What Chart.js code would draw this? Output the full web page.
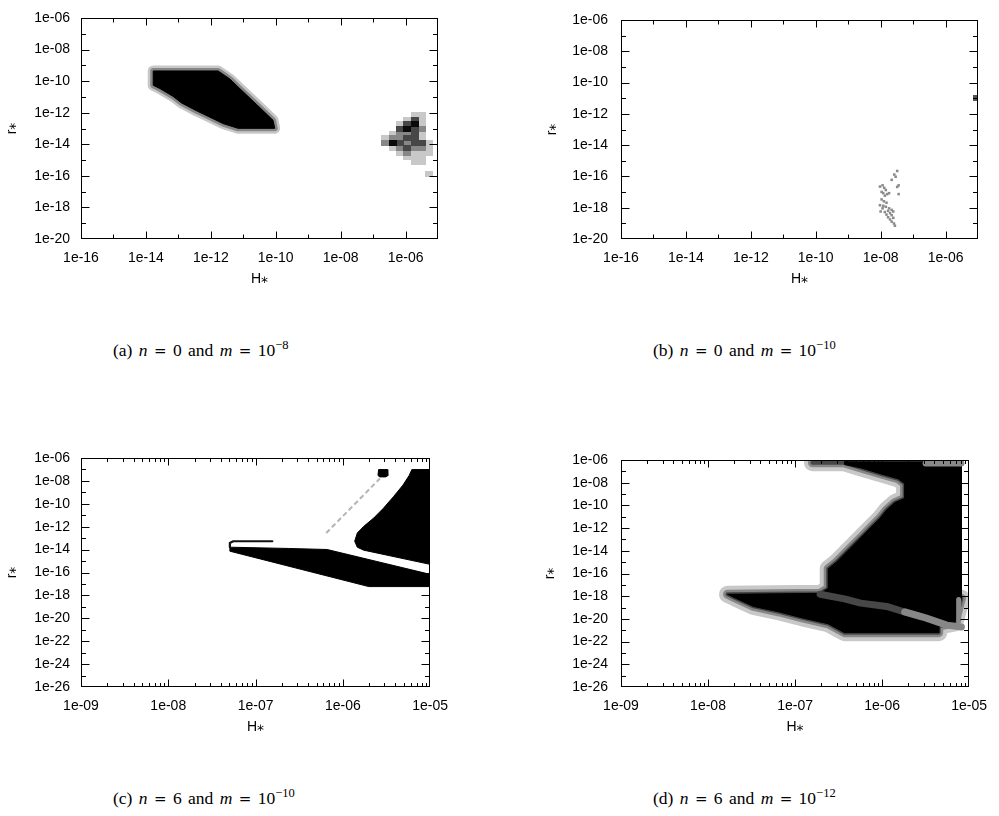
<!DOCTYPE html>
<html>
<head>
<meta charset="utf-8">
<title>Allowed regions in (H*, r*)</title>
<script src="https://cdn.jsdelivr.net/npm/chart.js@4.4.1/dist/chart.umd.min.js"></script>
<style>
  html, body { margin:0; padding:0; background:#fff; }
  body { position:relative; width:999px; height:816px; overflow:hidden; }
  canvas { position:absolute; }
  .cap { position:absolute; font-family:"Liberation Serif","Times New Roman",serif; font-size:17.5px; line-height:20px; color:#000; white-space:nowrap; word-spacing:2px; }
  .cap i { font-style:italic; }
  .cap .eq { font-family:"DejaVu Serif",serif; font-size:15px; }
  .cap sup { font-size:12.5px; line-height:0; vertical-align:0.55em; }
</style>
</head>
<body>
<canvas id="pa" width="460" height="300" style="left:0px;top:0px"></canvas>
<canvas id="pb" width="499" height="300" style="left:500px;top:0px"></canvas>
<canvas id="pc" width="460" height="300" style="left:0px;top:440px"></canvas>
<canvas id="pd" width="499" height="300" style="left:500px;top:440px"></canvas>
<div class="cap" style="left:113px;top:340px">(a) <i>n</i> <span class="eq">=</span> 0 and <i>m</i> <span class="eq">=</span> 10<sup>−8</sup></div>
<div class="cap" style="left:653px;top:340px">(b) <i>n</i> <span class="eq">=</span> 0 and <i>m</i> <span class="eq">=</span> 10<sup>−10</sup></div>
<div class="cap" style="left:113px;top:788px">(c) <i>n</i> <span class="eq">=</span> 6 and <i>m</i> <span class="eq">=</span> 10<sup>−10</sup></div>
<div class="cap" style="left:653px;top:788px">(d) <i>n</i> <span class="eq">=</span> 6 and <i>m</i> <span class="eq">=</span> 10<sup>−12</sup></div>
<script>
// ================= axis ticks and labels =================
const xTitle = 'H⁎';
const yTitle = 'r⁎';
const abXTicks = [1e-16, 1e-14, 1e-12, 1e-10, 1e-8, 1e-6];
const abXTickLabels = ['1e-16', '1e-14', '1e-12', '1e-10', '1e-08', '1e-06'];
const abXMinor = [1e-15, 1e-13, 1e-11, 1e-9, 1e-7];
const abYTicks = [1e-20, 1e-18, 1e-16, 1e-14, 1e-12, 1e-10, 1e-8, 1e-6];
const abYTickLabels = ['1e-20', '1e-18', '1e-16', '1e-14', '1e-12', '1e-10', '1e-08', '1e-06'];
const abYMinor = [1e-19, 1e-17, 1e-15, 1e-13, 1e-11, 1e-9, 1e-7];
const cdXTicks = [1e-9, 1e-8, 1e-7, 1e-6, 1e-5];
const cdXTickLabels = ['1e-09', '1e-08', '1e-07', '1e-06', '1e-05'];
const cdYTicks = [1e-26, 1e-24, 1e-22, 1e-20, 1e-18, 1e-16, 1e-14, 1e-12, 1e-10, 1e-8, 1e-6];
const cdYTickLabels = ['1e-26', '1e-24', '1e-22', '1e-20', '1e-18', '1e-16', '1e-14', '1e-12', '1e-10', '1e-08', '1e-06'];
const cdYMinor = [1e-25, 1e-23, 1e-21, 1e-19, 1e-17, 1e-15, 1e-13, 1e-11, 1e-9, 1e-7];

// ================= data (log10 H*, log10 r*) =================
// (a) n = 0, m = 1e-8 : main allowed region (outline)
const aBlackLog = [[-13.775,-9.353],[-11.775,-9.353],[-11.415,-9.86],[-11.108,-10.47],[-10.594,-11.47],
  [-10.083,-12.48],[-10.031,-12.99],[-11.160,-12.99],[-11.622,-12.69],[-12.031,-12.28],[-12.44,-11.88],
  [-12.902,-11.38],[-13.16,-10.97],[-13.57,-10.47],[-13.775,-10.26]];
// (a) patchy cluster near H* ~ 1e-6 : grid columns / rows and shaded cells [col,row]
const aCellColsLog = [-6.637, -6.40, -6.175, -5.95, -5.723, -5.50, -5.27];
const aCellRowsLog = [-12.13, -12.43, -12.73, -13.03, -13.33, -13.63, -13.93, -14.23, -14.53, -14.83, -15.13, -15.90];
const aCellsLight = [[4,0],[5,0],[3,1],[5,1],[2,2],[5,2],[1,4],[5,4],[0,5],[5,5],[6,6],[1,7],[6,7],[2,8],[4,8],[5,8],[6,8],[3,9],[4,9],[5,9],[4,10],[5,10],[6,11]];
const aCellsMid = [[5,3],[2,4],[3,4],[1,5],[2,5],[0,6],[3,6],[2,7],[4,7],[5,7],[3,8]];
const aCellsDark = [[4,1],[3,2],[2,3],[4,3],[4,4],[3,5],[4,5],[2,6],[4,6],[5,6],[3,7]];
const aCellsBlack = [[4,2],[3,3],[1,6]];

// (b) n = 0, m = 1e-10 : scattered points
const bDotsLog = [[-7.489,-15.65],[-7.58,-15.88],[-7.538,-16.02],[-7.66,-16.22],[-7.446,-16.57],[-7.49,-16.67],
  [-7.446,-17.13],[-7.94,-16.57],[-8.02,-16.65],[-7.89,-16.73],[-7.84,-16.87],[-7.97,-16.99],[-7.92,-17.07],
  [-7.80,-17.13],[-7.74,-17.07],[-7.87,-17.23],[-7.97,-17.47],[-7.90,-17.59],[-7.82,-17.68],[-8.02,-17.84],
  [-7.92,-17.88],[-7.84,-17.94],[-7.74,-18.04],[-7.66,-18.14],[-7.77,-18.20],[-7.61,-18.24],[-7.87,-18.28],
  [-7.71,-18.35],[-7.82,-18.44],[-7.66,-18.48],[-7.77,-18.61],[-7.61,-18.65],[-7.71,-18.75],[-7.66,-18.89],
  [-7.59,-19.01],[-7.56,-19.15],[-7.94,-18.04],[-8.0,-18.24]];
const bEdgeLog = [[-5.09,-10.97]];

// (c) n = 6, m = 1e-10
const cUpperLog = [[-5.209,-7.01],[-5.0,-7.01],[-5.0,-15.29],[-5.76,-14.05],[-5.834,-13.79],[-5.864,-13.27],
  [-5.834,-12.55],[-5.76,-11.97],[-5.647,-11.25],[-5.535,-10.39],[-5.42,-9.38],[-5.31,-8.36],[-5.238,-7.50]];
const cBlobLog = [[-5.59,-7.01],[-5.49,-7.01],[-5.485,-7.55],[-5.51,-7.65],[-5.58,-7.65],[-5.597,-7.5]];
const cLowerLog = [[-7.294,-13.79],[-6.622,-13.90],[-6.18,-13.99],[-5.0,-16.16],[-5.0,-17.23],[-5.703,-17.23],[-7.294,-14.14]];
const cProngLog = [[-6.808,-13.27],[-7.256,-13.27],[-7.294,-13.42],[-7.294,-13.79]];
const cDashLog = [[-6.19,-12.55],[-5.575,-7.79]];

// (d) n = 6, m = 1e-12
const dBlackLog = [[-6.432,-6.15],[-5.088,-6.15],[-5.088,-18.18],[-5.163,-20.35],[-5.349,-20.63],[-5.349,-21.21],
  [-6.432,-21.21],[-6.619,-20.43],[-6.917,-19.91],[-7.179,-19.39],[-7.477,-18.90],[-7.683,-18.18],[-7.776,-17.83],
  [-6.712,-17.75],[-6.619,-17.31],[-6.619,-15.58],[-6.525,-15.0],[-6.432,-14.28],[-6.320,-13.42],[-6.227,-12.70],
  [-6.133,-11.97],[-6.021,-11.11],[-5.947,-10.39],[-5.853,-9.75],[-5.741,-9.38],[-5.741,-8.08],[-5.816,-7.65],
  [-6.021,-7.21],[-6.245,-6.69],[-6.432,-6.40]];
const dFringeLog = [[-6.80,-6.25],[-6.432,-6.25],[-6.245,-6.69],[-6.021,-7.21],[-5.816,-7.65],[-5.741,-8.08],
  [-5.741,-9.38],[-5.853,-9.75],[-5.947,-10.39],[-6.021,-11.11],[-6.133,-11.97],[-6.227,-12.70],[-6.320,-13.42],
  [-6.432,-14.28],[-6.525,-15.0],[-6.619,-15.58],[-6.619,-17.31],[-6.712,-17.75],[-7.776,-17.83],[-7.683,-18.18],
  [-7.477,-18.90],[-7.179,-19.39],[-6.917,-19.91],[-6.619,-20.43],[-6.432,-21.21],[-5.349,-21.21],[-5.349,-20.63],
  [-5.163,-20.35],[-5.088,-18.18]];
const dBandDarkLog = [[-6.712,-17.83],[-6.432,-18.24],[-6.245,-18.61],[-5.947,-18.90],[-5.741,-19.39],[-5.55,-19.8]];
const dBandMidLog = [[-5.741,-19.39],[-5.500,-19.91],[-5.256,-20.55],[-5.088,-20.72]];
const dEdgeLog = [[-5.12,-18.3],[-5.12,-20.2]];
const dTopLog = [[-5.50,-6.3],[-5.088,-6.3]];

// ================= helpers =================
const shadeLight = '#c8c8c8', shadeMid = '#878787', shadeDark = '#474747', shadeBlack = '#0a0a0a';
const toVal = v => Math.pow(10, v);
const pts = arr => arr.map(([h, r]) => ({ x: toVal(h), y: toVal(r) }));
const closed = arr => pts(arr.concat([arr[0]]));

function polyFill(arr, color, order) {
  return { data: closed(arr), showLine: true, fill: 'shape', backgroundColor: color, borderColor: color,
    borderWidth: 1, pointRadius: 0, tension: 0, order: order, clip: 0 };
}
function stroke(arr, color, width, order, dash, close) {
  return { data: close ? closed(arr) : pts(arr), showLine: true, fill: false, borderColor: color, borderWidth: width,
    borderJoinStyle: 'round', borderCapStyle: dash ? 'butt' : 'round', borderDash: dash || [], pointRadius: 0,
    tension: 0, order: order, clip: 0 };
}
function cellImg(w, h, color) {
  const c = document.createElement('canvas'); c.width = w; c.height = h;
  const g = c.getContext('2d'); g.fillStyle = color; g.fillRect(0, 0, w, h); return c;
}
function cellSet(list, cols, rows, img, order) {
  return { data: list.map(([c, r]) => ({ x: toVal(cols[c]), y: toVal(rows[r]) })), showLine: false,
    pointStyle: img, pointRadius: 4, pointBorderWidth: 0, order: order, clip: 0 };
}
function dots(arr, color, radius, order) {
  return { data: pts(arr), showLine: false, pointStyle: 'rect', pointRadius: radius, pointBackgroundColor: color,
    pointBorderWidth: 0, order: order, clip: 0 };
}

function makeFrame(p) {
  return {
    id: 'frame',
    afterDraw(chart) {
      const { ctx, chartArea: a, scales: { x, y } } = chart;
      const l = Math.round(a.left) + 0.5, r = Math.round(a.right) - 0.5;
      const t = Math.round(a.top) + 0.5, b = Math.round(a.bottom) - 0.5;
      ctx.save();
      ctx.strokeStyle = '#000'; ctx.lineWidth = 1;
      ctx.beginPath();
      const tickX = (list, len) => list.forEach(v => {
        const px = Math.round(x.getPixelForValue(v)) + 0.5;
        if (px <= l + 1 || px >= r - 1) return;
        ctx.moveTo(px, b); ctx.lineTo(px, b - len); ctx.moveTo(px, t); ctx.lineTo(px, t + len);
      });
      const tickY = (list, len) => list.forEach(v => {
        const py = Math.round(y.getPixelForValue(v)) + 0.5;
        if (py <= t + 1 || py >= b - 1) return;
        ctx.moveTo(l, py); ctx.lineTo(l + len, py); ctx.moveTo(r, py); ctx.lineTo(r - len, py);
      });
      tickX(p.xTicks, 7); tickX(p.xMinor, p.xMinorLen);
      tickY(p.yTicks, 8); tickY(p.yMinor, 4.5);
      ctx.stroke();
      ctx.strokeRect(l, t, r - l, b - t);
      ctx.fillStyle = '#000';
      ctx.font = '14px "Liberation Sans", "DejaVu Sans", sans-serif';
      ctx.textAlign = 'center'; ctx.textBaseline = 'middle';
      ctx.fillText(xTitle, (a.left + a.right) / 2, a.bottom + 40);
      ctx.translate(p.yTitleX, (a.top + a.bottom) / 2);
      ctx.rotate(-Math.PI / 2);
      ctx.fillText(yTitle, 0, 0);
      ctx.restore();
    }
  };
}

const XH = 30;
const tickFont = { family: "'Liberation Sans', Arial, sans-serif", size: 14, lineHeight: 1 };
function panel(id, p) {
  const A = p.area;
  return new Chart(document.getElementById(id), {
    type: 'scatter',
    data: { datasets: p.datasets },
    options: {
      responsive: false, animation: false, devicePixelRatio: 1, events: [],
      layout: { padding: { left: 0, top: A.top, right: p.w - A.right, bottom: p.h - A.bottom - XH } },
      plugins: { legend: { display: false }, tooltip: { enabled: false } },
      scales: {
        x: {
          type: 'logarithmic', position: 'bottom', min: p.xMin, max: p.xMax,
          grid: { display: false, drawTicks: false }, border: { display: false },
          afterFit: s => { s.height = XH; },
          afterBuildTicks: s => { s.ticks = p.xTicks.map(v => ({ value: v })); },
          ticks: { autoSkip: false, maxRotation: 0, minRotation: 0, padding: 12, color: '#000', font: tickFont,
            callback: (v, i) => p.xLabels[i] }
        },
        y: {
          type: 'logarithmic', position: 'left', min: p.yMin, max: p.yMax,
          grid: { display: false, drawTicks: false }, border: { display: false },
          afterFit: s => { s.width = A.left; },
          afterBuildTicks: s => { s.ticks = p.yTicks.map(v => ({ value: v })); },
          ticks: { autoSkip: false, padding: p.yPad, color: '#000', font: tickFont,
            callback: (v, i) => p.yLabels[i] }
        }
      }
    },
    plugins: [makeFrame(p)]
  });
}

// minor x ticks for the 4-decade panels (2..9 within each decade)
const cdXMinor = [];
cdXTicks.slice(0, -1).forEach(d => { for (let k = 2; k <= 9; k++) cdXMinor.push(k * d); });

// ---------- (a) ----------
panel('pa', {
  w: 460, h: 300, area: { left: 81, top: 8, right: 438, bottom: 239 },
  xMin: 1e-16, xMax: 1e-5, yMin: 1e-20, yMax: 1e-6,
  xTicks: abXTicks, xLabels: abXTickLabels, xMinor: abXMinor, xMinorLen: 4,
  yTicks: abYTicks, yLabels: abYTickLabels, yMinor: abYMinor, yPad: 11, yTitleX: 12,
  datasets: [
    stroke(aBlackLog, shadeLight, 11, 10, null, true),
    stroke(aBlackLog, shadeMid, 6, 9, null, true),
    polyFill(aBlackLog, '#000', 8),
    cellSet(aCellsLight, aCellColsLog, aCellRowsLog, cellImg(8, 6, shadeLight), 4),
    cellSet(aCellsMid, aCellColsLog, aCellRowsLog, cellImg(8, 6, shadeMid), 3),
    cellSet(aCellsDark, aCellColsLog, aCellRowsLog, cellImg(8, 6, shadeDark), 2),
    cellSet(aCellsBlack, aCellColsLog, aCellRowsLog, cellImg(8, 6, shadeBlack), 1)
  ]
});

// ---------- (b) ----------
panel('pb', {
  w: 499, h: 300, area: { left: 121, top: 8, right: 478, bottom: 239 },
  xMin: 1e-16, xMax: 1e-5, yMin: 1e-20, yMax: 1e-6,
  xTicks: abXTicks, xLabels: abXTickLabels, xMinor: abXMinor, xMinorLen: 4,
  yTicks: abYTicks, yLabels: abYTickLabels, yMinor: abYMinor, yPad: 13, yTitleX: 52,
  datasets: [
    dots(bDotsLog, '#8a8a8a', 1.8, 2),
    cellSet([[0, 0]], [bEdgeLog[0][0]], [bEdgeLog[0][1]], cellImg(5, 6, '#555555'), 1)
  ]
});

// ---------- (c) ----------
panel('pc', {
  w: 460, h: 300, area: { left: 81, top: 16, right: 438, bottom: 247 },
  xMin: 1e-9, xMax: 1e-5, yMin: 1e-26, yMax: 1e-6,
  xTicks: cdXTicks, xLabels: cdXTickLabels, xMinor: cdXMinor, xMinorLen: 3.5,
  yTicks: cdYTicks, yLabels: cdYTickLabels, yMinor: cdYMinor, yPad: 11, yTitleX: 12,
  datasets: [
    polyFill(cUpperLog, '#000', 5),
    polyFill(cBlobLog, '#000', 4),
    polyFill(cLowerLog, '#000', 3),
    stroke(cProngLog, '#111111', 2.2, 2),
    stroke(cDashLog, '#b4b4b4', 2, 1, [5, 3])
  ]
});

// ---------- (d) ----------
panel('pd', {
  w: 499, h: 300, area: { left: 121, top: 16, right: 478, bottom: 247 },
  xMin: 1e-9, xMax: 1e-5, yMin: 1e-26, yMax: 1e-6,
  xTicks: cdXTicks, xLabels: cdXTickLabels, xMinor: cdXMinor, xMinorLen: 3.5,
  yTicks: cdYTicks, yLabels: cdYTickLabels, yMinor: cdYMinor, yPad: 13, yTitleX: 50,
  datasets: [
    stroke(dFringeLog, shadeLight, 17, 10),
    stroke(dFringeLog, shadeMid, 9, 9),
    stroke(dFringeLog, shadeDark, 4, 8),
    polyFill(dBlackLog, '#000', 7),
    stroke(dBandDarkLog, shadeDark, 7, 4),
    stroke(dBandMidLog, shadeMid, 7, 3),
    stroke(dEdgeLog, shadeMid, 5, 2),
    stroke(dTopLog, shadeMid, 6, 1)
  ]
});
</script>
</body>
</html>
